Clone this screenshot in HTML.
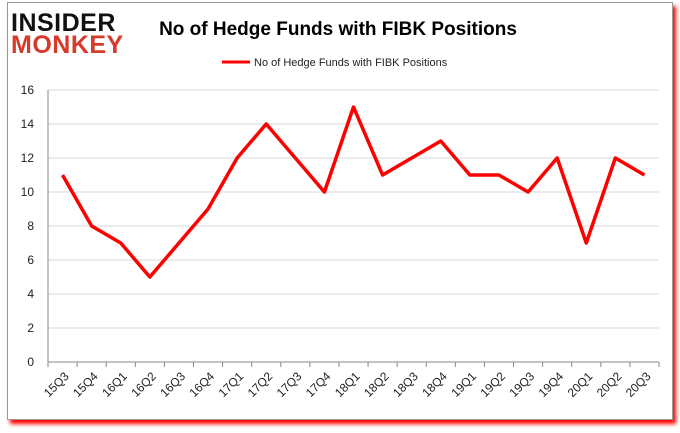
<!DOCTYPE html>
<html><head><meta charset="utf-8"><style>
body{margin:0;width:680px;height:433px;background:#fff;overflow:hidden;font-family:"Liberation Sans",sans-serif}
#frame{position:absolute;left:7px;top:2px;width:664px;height:416px;border:1px solid #9a9a9a;background:#fff;box-shadow:3px 4px 4px #f00}
</style></head><body>
<div id="frame"></div>
<svg width="680" height="433" style="position:absolute;left:0;top:0" id="chart">
<text x="11" y="31" font-size="25" font-weight="bold" fill="#111" font-family="Liberation Sans" letter-spacing="0.5">INSIDER</text>
<text x="11" y="53" font-size="25" font-weight="bold" fill="#d63a2a" font-family="Liberation Sans" letter-spacing="0.5">MONKEY</text>
<text x="338" y="35" font-size="19" font-weight="bold" text-anchor="middle" fill="#000">No of Hedge Funds with FIBK Positions</text>
<line x1="222" y1="62" x2="250" y2="62" stroke="#f00" stroke-width="3"/>
<text x="254" y="66" font-size="11" fill="#222">No of Hedge Funds with FIBK Positions</text>
<g id="grid"></g><g id="axes"></g>
<polyline id="line" fill="none" stroke="#f00" stroke-width="3.5" stroke-linejoin="round"/>
</svg>
<script>
const categories=["15Q3","15Q4","16Q1","16Q2","16Q3","16Q4","17Q1","17Q2","17Q3","17Q4","18Q1","18Q2","18Q3","18Q4","19Q1","19Q2","19Q3","19Q4","20Q1","20Q2","20Q3"];
const values=[11,8,7,5,7,9,12,14,12,10,15,11,12,13,11,11,10,12,7,12,11];
const yTicks=[0,2,4,6,8,10,12,14,16];
const NS="http://www.w3.org/2000/svg";
const L=48,R=659,T=90,B=362,band=(R-L)/categories.length;
const x=i=>L+band*(i+0.5), y=v=>B-(v/16)*(B-T);
function mk(t,a,p){const e=document.createElementNS(NS,t);for(const k in a)e.setAttribute(k,a[k]);p.appendChild(e);return e;}
const g=document.getElementById('grid'),ax=document.getElementById('axes');
yTicks.forEach(v=>{
 const ln=mk('line',{x1:L,x2:R,y1:y(v),y2:y(v),stroke:v?'#d9d9d9':'#888'},g);
 
 
 const t=mk('text',{x:L-14,y:y(v)+4,'font-size':12,'text-anchor':'end',fill:'#222'},ax);t.textContent=v;
 
 
});
const yl=mk('line',{x1:L,x2:L,y1:T,y2:B,stroke:'#888'},ax);


for(let i=0;i<=categories.length;i++){
 const tk=mk('line',{x1:L+band*i,x2:L+band*i,y1:B,y2:B+5,stroke:'#888'},ax);
 
 
}
categories.forEach((c,i)=>{
 const t=mk('text',{x:x(i)+7,y:B+15,'font-size':12,'text-anchor':'end',fill:'#222',transform:`rotate(-45 ${x(i)+7} ${B+15})`},ax);t.textContent=c;
 
 
});
document.getElementById('line').setAttribute('points',values.map((v,i)=>x(i)+','+y(v)).join(' '));
</script>
</body></html>
